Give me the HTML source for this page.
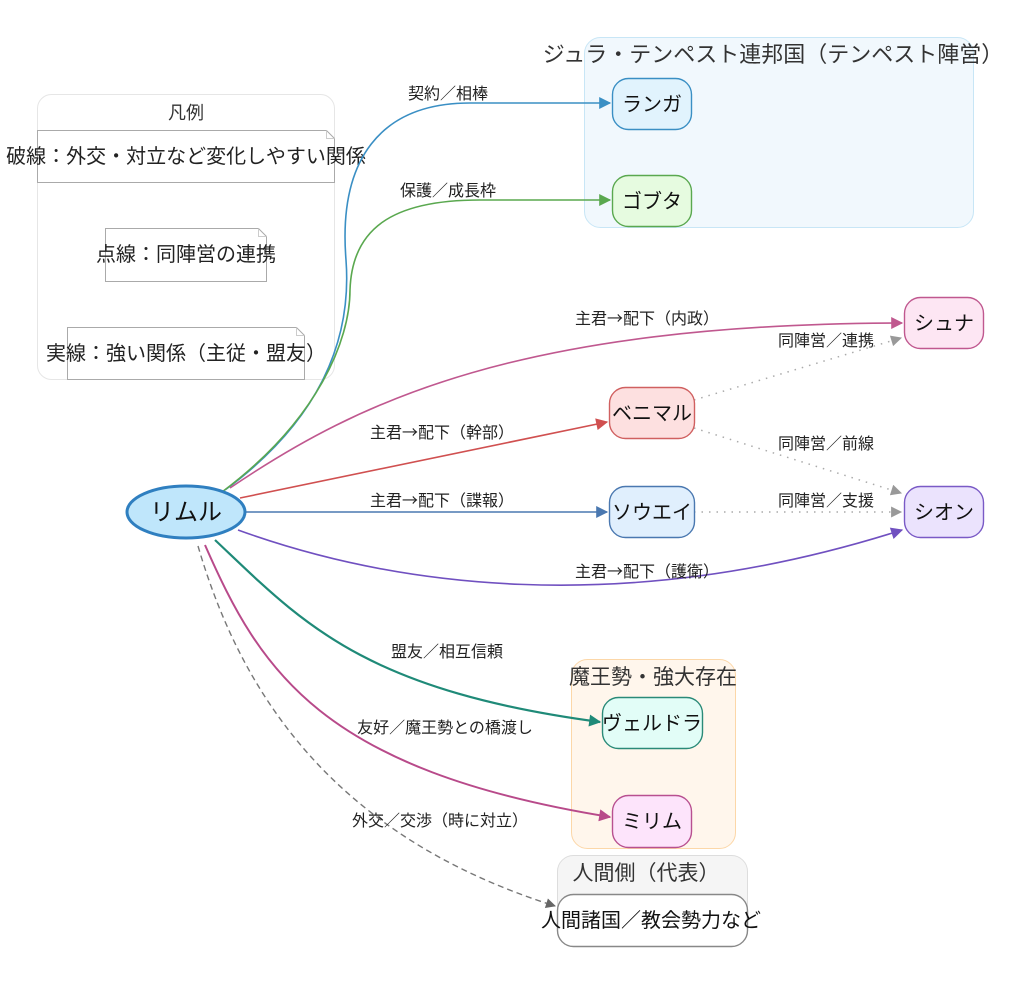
<!DOCTYPE html>
<html><head><meta charset="utf-8"><style>
html,body{margin:0;padding:0;background:#fff;}
svg{display:block;font-family:"Noto Sans CJK JP","Liberation Sans",sans-serif;}
</style></head><body>
<svg width="1024" height="1001" viewBox="0 0 1024 1001" xmlns="http://www.w3.org/2000/svg">
<defs>
<marker id="mBlue" viewBox="0 0 10 10" refX="9" refY="5" markerWidth="14" markerHeight="12" orient="auto" markerUnits="userSpaceOnUse"><path d="M0,0L10,5L0,10z" fill="#3a8fc4"/></marker>
<marker id="mGreen" viewBox="0 0 10 10" refX="9" refY="5" markerWidth="14" markerHeight="12" orient="auto" markerUnits="userSpaceOnUse"><path d="M0,0L10,5L0,10z" fill="#5aa84f"/></marker>
<marker id="mPink" viewBox="0 0 10 10" refX="9" refY="5" markerWidth="14" markerHeight="12" orient="auto" markerUnits="userSpaceOnUse"><path d="M0,0L10,5L0,10z" fill="#c0588f"/></marker>
<marker id="mRed" viewBox="0 0 10 10" refX="9" refY="5" markerWidth="14" markerHeight="12" orient="auto" markerUnits="userSpaceOnUse"><path d="M0,0L10,5L0,10z" fill="#d05050"/></marker>
<marker id="mSB" viewBox="0 0 10 10" refX="9" refY="5" markerWidth="14" markerHeight="12" orient="auto" markerUnits="userSpaceOnUse"><path d="M0,0L10,5L0,10z" fill="#4a78b0"/></marker>
<marker id="mPur" viewBox="0 0 10 10" refX="9" refY="5" markerWidth="14" markerHeight="12" orient="auto" markerUnits="userSpaceOnUse"><path d="M0,0L10,5L0,10z" fill="#7050c0"/></marker>
<marker id="mTeal" viewBox="0 0 10 10" refX="9" refY="5" markerWidth="14" markerHeight="12" orient="auto" markerUnits="userSpaceOnUse"><path d="M0,0L10,5L0,10z" fill="#1f8a78"/></marker>
<marker id="mMag" viewBox="0 0 10 10" refX="9" refY="5" markerWidth="14" markerHeight="12" orient="auto" markerUnits="userSpaceOnUse"><path d="M0,0L10,5L0,10z" fill="#b84a8a"/></marker>
<marker id="mGray" viewBox="0 0 10 10" refX="9" refY="5" markerWidth="12" markerHeight="10" orient="auto" markerUnits="userSpaceOnUse"><path d="M0,0L10,5L0,10z" fill="#666"/></marker>
<marker id="mLG" viewBox="0 0 10 10" refX="9" refY="5" markerWidth="13" markerHeight="11" orient="auto" markerUnits="userSpaceOnUse"><path d="M0,0L10,5L0,10z" fill="#999"/></marker>
</defs>

<!-- Legend -->
<rect x="37.5" y="94.5" width="297" height="285" rx="14" fill="#fff" stroke="#e6e6e6"/>
<text x="186" y="119" font-size="18" text-anchor="middle" fill="#333">凡例</text>
<path d="M37.5,130.5H326.5L334.5,138.5V182.5H37.5Z" fill="#fff" stroke="#aaa"/>
<path d="M326.5,130.5V138.5H334.5" fill="none" stroke="#ccc"/>
<text x="186" y="163" font-size="20" text-anchor="middle" fill="#222">破線：外交・対立など変化しやすい関係</text>
<path d="M105.5,228.5H258.5L266.5,236.5V281.5H105.5Z" fill="#fff" stroke="#aaa"/>
<path d="M258.5,228.5V236.5H266.5" fill="none" stroke="#ccc"/>
<text x="186" y="261" font-size="20" text-anchor="middle" fill="#222">点線：同陣営の連携</text>
<path d="M67.5,327.5H296.5L304.5,335.5V379.5H67.5Z" fill="#fff" stroke="#aaa"/>
<path d="M296.5,327.5V335.5H304.5" fill="none" stroke="#ccc"/>
<text x="186" y="360" font-size="20" text-anchor="middle" fill="#222">実線：強い関係（主従・盟友）</text>

<!-- Groups -->
<rect x="584.5" y="37.5" width="389" height="190" rx="16" fill="#f1f8fd" stroke="#c8e6f6"/>
<text x="773" y="62" font-size="22" text-anchor="middle" fill="#333">ジュラ・テンペスト連邦国（テンペスト陣営）</text>
<rect x="571.5" y="659.5" width="164" height="189" rx="16" fill="#fff6ec" stroke="#fcd7a8"/>
<text x="653" y="684" font-size="21" text-anchor="middle" fill="#333">魔王勢・強大存在</text>
<rect x="557.5" y="855.5" width="190" height="91" rx="16" fill="#f5f5f5" stroke="#ddd"/>
<text x="646" y="880" font-size="21" text-anchor="middle" fill="#333">人間側（代表）</text>

<!-- Edges -->
<path d="M225,490 C320,420 352,340 346,260 C338,160 380,103 470,103 L610,103" fill="none" stroke="#3a8fc4" stroke-width="1.6" marker-end="url(#mBlue)"/>
<path d="M222,492 C318,420 350,340 350,290 C352,230 390,200 480,200 L610,200" fill="none" stroke="#5aa84f" stroke-width="1.6" marker-end="url(#mGreen)"/>
<path d="M230,488 C360,400 520,324 902,323" fill="none" stroke="#c0588f" stroke-width="1.6" marker-end="url(#mPink)"/>
<path d="M240,498 L607,422" fill="none" stroke="#d05050" stroke-width="1.6" marker-end="url(#mRed)"/>
<path d="M245,512 L607,512" fill="none" stroke="#4a78b0" stroke-width="1.6" marker-end="url(#mSB)"/>
<path d="M238,530 C390,585 620,620 902,530" fill="none" stroke="#7050c0" stroke-width="1.6" marker-end="url(#mPur)"/>
<path d="M215,540 C300,620 360,690 600,722" fill="none" stroke="#1f8a78" stroke-width="2.2" marker-end="url(#mTeal)"/>
<path d="M205,545 C260,670 320,770 610,817" fill="none" stroke="#b84a8a" stroke-width="2" marker-end="url(#mMag)"/>
<path d="M198,546 C240,690 330,835 555,906" fill="none" stroke="#777" stroke-width="1.4" stroke-dasharray="6,4" marker-end="url(#mGray)"/>
<path d="M694,400 L901,338" fill="none" stroke="#aaa" stroke-width="1.5" stroke-dasharray="1.5,6" marker-end="url(#mLG)"/>
<path d="M694,428 L901,493" fill="none" stroke="#aaa" stroke-width="1.5" stroke-dasharray="1.5,6" marker-end="url(#mLG)"/>
<path d="M694,512 L901,512" fill="none" stroke="#aaa" stroke-width="1.5" stroke-dasharray="1.5,6" marker-end="url(#mLG)"/>

<!-- Edge labels -->
<g font-size="16" text-anchor="middle" fill="#222">
<text x="448" y="99">契約／相棒</text>
<text x="448" y="196">保護／成長枠</text>
<text x="647" y="324">主君→配下（内政）</text>
<text x="442" y="438">主君→配下（幹部）</text>
<text x="442" y="506">主君→配下（諜報）</text>
<text x="647" y="577">主君→配下（護衛）</text>
<text x="447" y="657">盟友／相互信頼</text>
<text x="445" y="733">友好／魔王勢との橋渡し</text>
<text x="440" y="826">外交／交渉（時に対立）</text>
<text x="826" y="346">同陣営／連携</text>
<text x="826" y="449">同陣営／前線</text>
<text x="826" y="506">同陣営／支援</text>
</g>

<!-- Nodes -->
<g font-size="20" text-anchor="middle" fill="#111">
<rect x="612.5" y="78.5" width="79" height="51" rx="16" fill="#e1f3fd" stroke="#3a8fc4" stroke-width="1.4"/>
<text x="652" y="111">ランガ</text>
<rect x="612.5" y="175.5" width="79" height="51" rx="16" fill="#e6fbe0" stroke="#5aa84f" stroke-width="1.4"/>
<text x="652" y="208">ゴブタ</text>
<rect x="904.5" y="297.5" width="79" height="51" rx="16" fill="#fde6f3" stroke="#c0588f" stroke-width="1.4"/>
<text x="944" y="330">シュナ</text>
<rect x="609.5" y="387.5" width="85" height="51" rx="16" fill="#fde0e0" stroke="#d06060" stroke-width="1.4"/>
<text x="652" y="420">ベニマル</text>
<rect x="609.5" y="486.5" width="85" height="51" rx="16" fill="#e0effd" stroke="#4a78b0" stroke-width="1.4"/>
<text x="652" y="519">ソウエイ</text>
<rect x="904.5" y="486.5" width="79" height="51" rx="16" fill="#ebe3fd" stroke="#7a5ac6" stroke-width="1.4"/>
<text x="944" y="519">シオン</text>
<rect x="602.5" y="697.5" width="100" height="51" rx="16" fill="#e2fdf7" stroke="#2a8a78" stroke-width="1.4"/>
<text x="652" y="730">ヴェルドラ</text>
<rect x="612.5" y="795.5" width="79" height="52" rx="16" fill="#fde4fb" stroke="#b85090" stroke-width="1.4"/>
<text x="652" y="828">ミリム</text>
<rect x="557.5" y="894.5" width="190" height="52" rx="16" fill="#fff" stroke="#888" stroke-width="1.4"/>
<text x="651" y="927">人間諸国／教会勢力など</text>
<ellipse cx="186" cy="512" rx="59" ry="26" fill="#bfe6fb" stroke="#2f7fc0" stroke-width="3"/>
<text x="186" y="520" font-size="24">リムル</text>
</g>
</svg>
</body></html>
